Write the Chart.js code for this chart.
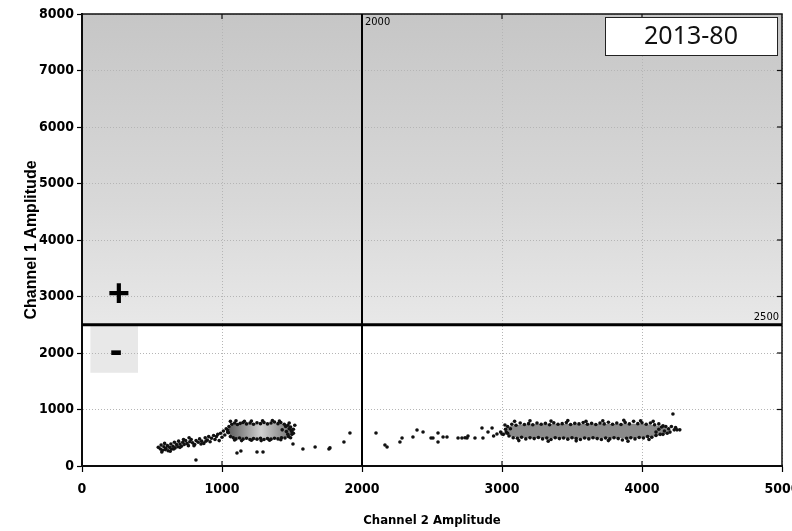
<!DOCTYPE html>
<html>
<head>
<meta charset="utf-8">
<script src="https://cdn.jsdelivr.net/npm/chart.js@4/dist/chart.umd.min.js"></script>
<style>
  html, body { margin: 0; padding: 0; background: #fff; }
  #wrap { width: 792px; height: 531px; }
</style>
</head>
<body>
<div id="wrap"><canvas id="plot" width="792" height="531"></canvas></div>
<script>
// axes
const xMin = 0, xMax = 5000, xStep = 1000;
const yMin = 0, yMax = 8000, yStep = 1000;
const xTitle = 'Channel 2 Amplitude';
const yTitle = 'Channel 1 Amplitude';
const sampleLabel = '2013-80';

// gates
const ch2Threshold = 2000;
const ch1Threshold = 2500;

// droplets, [Ch2, Ch1] amplitudes
const tail1 = [[545,330],[560,300],[565,370],[575,280],[585,340],[590,400],[600,310],[610,360],[615,270],[625,330],
  [635,390],[640,300],[650,350],[660,420],[665,320],[675,380],[685,340],[690,440],[700,390],[710,350],[720,420],
  [730,380],[740,450],[750,400],[760,360],[770,430],[780,470],[790,410],[805,380],[815,450],[830,420],[840,480],
  [855,440],[870,400],[880,500],[895,460],[905,520],[915,430],[925,490],[940,540],[950,470],[960,520],[970,560],
  [980,450],[990,580],[1000,510],[1010,620],[1020,550],[1030,660],[1040,600],
  [570,250],[595,290],[630,260],[655,300],[700,330],[725,470],[765,500],[800,360],[850,390],[885,440]];
const body1 = [[1050,700],[1070,740],[1090,760],[1110,735],[1130,755],[1150,770],[1175,745],[1200,760],[1225,740],
  [1250,765],[1275,750],[1300,770],[1325,745],[1350,760],[1375,780],[1400,750],[1420,770],[1445,740],[1470,720],
  [1490,690],[1510,650],[1060,520],[1080,500],[1100,480],[1125,495],[1150,475],[1175,490],[1200,470],[1225,485],
  [1250,475],[1275,490],[1300,470],[1325,485],[1350,475],[1375,490],[1400,480],[1425,500],[1450,495],[1475,520],
  [1500,560],[1040,640],[1045,590],[1500,600],[1510,580],[1495,630],[1430,640],[1460,610],[1480,660],[1455,700],[1470,560],
  [1060,790],[1100,800],[1160,790],[1210,795],[1290,800],[1360,805],[1410,795],[1480,760],[1520,720],
  [1090,460],[1140,450],[1210,455],[1280,450],[1340,455],[1420,465],[1490,500]];
const stray1 = [[814,106],[1107,230],[1135,265],[1250,248],[1293,248],[1507,390],[1578,300],[1665,336],[1764,300],
  [1771,320],[1871,425],[1914,584]];
const tail2 = [[2100,584],[2164,372],[2179,336],[2271,425],[2286,496],[2364,513],[2393,637],[2436,602],[2493,496],
  [2507,496],[2543,584],[2543,425],[2579,513],[2607,513],[2686,496],[2714,496],[2736,500],[2750,496],[2757,530],
  [2807,496],[2857,672],[2864,496],[2900,602],[2929,672],[2940,530],[2964,566],[2990,600],[3000,566],[3021,725]];
const body2 = [[3040,700],[3070,740],[3100,720],[3130,760],[3160,735],[3190,750],[3220,730],[3250,760],[3280,740],
  [3310,755],[3340,730],[3370,765],[3400,740],[3430,750],[3460,770],[3490,735],[3520,755],[3550,745],[3580,770],
  [3610,740],[3640,755],[3670,735],[3700,760],[3730,745],[3760,775],[3790,740],[3820,760],[3850,735],[3880,770],
  [3910,745],[3940,790],[3970,750],[4000,765],[4030,740],[4060,760],[4090,730],[4120,745],[4150,710],
  [3050,530],[3080,500],[3110,490],[3140,510],[3170,480],[3200,500],[3230,485],[3260,505],[3290,480],[3320,495],
  [3350,470],[3380,500],[3410,485],[3440,495],[3470,475],[3500,500],[3530,485],[3560,470],[3590,495],[3620,480],
  [3650,500],[3680,485],[3710,470],[3740,495],[3770,480],[3800,500],[3830,485],[3860,460],[3890,490],[3920,500],
  [3950,480],[3980,505],[4010,495],[4040,520],[4070,510],[4100,540],[4130,560],
  [3030,600],[3025,650],[3010,560],[3040,580],[3060,660],
  [3090,790],[3200,800],[3350,795],[3470,805],[3600,790],[3720,800],[3870,810],[3990,800],[4080,790],
  [3120,450],[3330,440],[3530,445],[3760,450],[3900,440],[4050,470]];
const stray2 = [[4120,650],[4140,690],[4160,620],[4170,700],[4180,580],[4190,660],[4200,600],[4210,700],[4221,920],
  [4230,640],[4250,640],[4270,640],[4150,560],[4100,600],[4240,680]];

// dense cores of the two negative clusters (upper / lower outline)
const core1Top = [[1050,680],[1080,735],[1150,755],[1250,758],[1350,758],[1450,740],[1495,685],[1510,620]];
const core1Bottom = [[1050,570],[1080,505],[1150,485],[1250,478],[1350,478],[1450,500],[1495,545],[1510,620]];
const core2Top = [[3020,640],[3060,710],[3200,740],[3400,745],[3600,745],[3800,745],[4000,745],[4150,700],[4210,640]];
const core2Bottom = [[3020,560],[3060,520],[3200,495],[3400,490],[3600,485],[3800,490],[4000,500],[4150,555],[4210,640]];

const toXY = arr => arr.map(p => ({ x: p[0], y: p[1] }));
const narrow = "'Liberation Sans Narrow', 'DejaVu Sans Condensed', sans-serif";

const coreDataset = (pts, fill, color) => ({
  type: 'line',
  data: toXY(pts),
  showLine: true,
  borderWidth: 0,
  borderColor: 'rgba(0,0,0,0)',
  pointRadius: 0,
  fill: fill,
  backgroundColor: color,
  tension: 0.3,
  order: 2
});

const dotDataset = pts => ({
  type: 'scatter',
  data: toXY(pts),
  pointRadius: 1.8,
  pointBorderWidth: 0,
  backgroundColor: '#111',
  order: 1
});

const core1Fill = (ctx) => {
  const { chart } = ctx;
  const xs = chart.scales.x;
  if (!chart.chartArea || !xs) return '#aaa';
  const a = xs.getPixelForValue(1050), b = xs.getPixelForValue(1510);
  if (!isFinite(a) || !isFinite(b)) return '#aaa';
  const g = chart.ctx.createLinearGradient(a, 0, b, 0);
  g.addColorStop(0, '#5f5f5f');
  g.addColorStop(0.5, '#d0d0d0');
  g.addColorStop(1, '#6d6d6d');
  return g;
};

const backdrop = {
  id: 'backdrop',
  beforeDraw(chart) {
    const { ctx, chartArea: { left, right, top, bottom }, scales: { x, y } } = chart;
    const yT = y.getPixelForValue(ch1Threshold);
    ctx.save();
    ctx.fillStyle = '#fff';
    ctx.fillRect(left, top, right - left, bottom - top);
    const g = ctx.createLinearGradient(0, top, 0, yT);
    g.addColorStop(0, '#c6c6c6');
    g.addColorStop(0.6, '#d8d8d8');
    g.addColorStop(1, '#e8e8e8');
    ctx.fillStyle = g;
    ctx.fillRect(left, top, right - left, yT - top);
    // shaded key box behind the "-" sign
    ctx.fillStyle = '#e8e8e8';
    const bx0 = x.getPixelForValue(60), bx1 = x.getPixelForValue(400);
    ctx.fillRect(bx0, yT, bx1 - bx0, y.getPixelForValue(1650) - yT);
    ctx.restore();
  },
  afterDatasetsDraw(chart) {
    const { ctx, chartArea: { left, right, top, bottom }, scales: { x, y } } = chart;
    const xT = x.getPixelForValue(ch2Threshold);
    const yT = y.getPixelForValue(ch1Threshold);
    ctx.save();
    // extra tick marks on top/right/bottom-inside
    ctx.strokeStyle = '#111';
    ctx.lineWidth = 1.2;
    for (let v = xMin + xStep; v < xMax; v += xStep) {
      const px = x.getPixelForValue(v);
      ctx.beginPath();
      ctx.moveTo(px, top); ctx.lineTo(px, top + 5);
      ctx.moveTo(px, bottom); ctx.lineTo(px, bottom - 5);
      ctx.stroke();
    }
    for (let v = yMin + yStep; v < yMax; v += yStep) {
      const py = y.getPixelForValue(v);
      ctx.beginPath();
      ctx.moveTo(right, py); ctx.lineTo(right - 5, py);
      ctx.stroke();
    }
    // plot frame
    ctx.lineWidth = 1.5;
    ctx.strokeRect(left, top, right - left, bottom - top);
    // threshold lines
    ctx.strokeStyle = '#000';
    ctx.lineWidth = 2;
    ctx.beginPath(); ctx.moveTo(xT, top); ctx.lineTo(xT, bottom); ctx.stroke();
    ctx.lineWidth = 3;
    ctx.beginPath(); ctx.moveTo(left, yT); ctx.lineTo(right, yT); ctx.stroke();
    ctx.fillStyle = '#000';
    ctx.font = '11px ' + narrow;
    ctx.textAlign = 'left'; ctx.textBaseline = 'top';
    ctx.fillText(String(ch2Threshold), xT + 3, top + 3);
    ctx.textAlign = 'right'; ctx.textBaseline = 'bottom';
    ctx.fillText(String(ch1Threshold), right - 3, yT - 2);
    // key signs
    ctx.font = 'bold 38px "Liberation Sans", Arial, sans-serif';
    ctx.textAlign = 'center'; ctx.textBaseline = 'middle';
    ctx.fillText('+', x.getPixelForValue(264), y.getPixelForValue(3020));
    ctx.fillText('-', x.getPixelForValue(243), y.getPixelForValue(2010));
    // sample label box
    const bw = 172, bh = 38;
    const bxr = right - 5, byt = top + 3;
    ctx.fillStyle = '#fff';
    ctx.fillRect(bxr - bw, byt, bw, bh);
    ctx.strokeStyle = '#222';
    ctx.lineWidth = 1;
    ctx.strokeRect(bxr - bw + 0.5, byt + 0.5, bw, bh);
    ctx.fillStyle = '#111';
    ctx.font = '25px "Noto Sans", "Open Sans", sans-serif';
    ctx.textAlign = 'center'; ctx.textBaseline = 'middle';
    ctx.fillText(sampleLabel, bxr - bw / 2, byt + bh / 2 + 1);
    ctx.restore();
  }
};

new Chart(document.getElementById('plot'), {
  type: 'scatter',
  data: {
    datasets: [
      coreDataset(core1Top, false, '#aaa'),
      coreDataset(core1Bottom, '-1', core1Fill),
      coreDataset(core2Top, false, '#8a8a8a'),
      coreDataset(core2Bottom, '-1', '#8a8a8a'),
      dotDataset(tail1),
      dotDataset(body1),
      dotDataset(stray1),
      dotDataset(tail2),
      dotDataset(body2),
      dotDataset(stray2)
    ]
  },
  options: {
    responsive: false,
    animation: false,
    layout: { padding: { top: 14, right: 10, left: 0, bottom: 0 } },
    plugins: { legend: { display: false }, tooltip: { enabled: false } },
    scales: {
      x: {
        type: 'linear',
        min: xMin, max: xMax,
        afterFit: s => { s.height = 65; s.paddingRight = 0; s.paddingLeft = 0; },
        ticks: { stepSize: xStep, color: '#000', padding: 9, maxRotation: 0,
          callback: v => String(v),
          font: { family: narrow, size: 14, weight: 'bold' } },
        grid: { color: '#b5b5b5', lineWidth: 1, tickLength: 6, tickColor: '#000', tickWidth: 1.2 },
        border: { display: true, color: '#000', width: 2, dash: [1, 2] },
        title: { display: true, text: xTitle, color: '#000', padding: { top: 0, bottom: 3 },
          font: { family: narrow, size: 13, weight: 'bold' } }
      },
      y: {
        type: 'linear',
        min: yMin, max: yMax,
        afterFit: s => { s.width = 82; s.paddingTop = 0; s.paddingBottom = 0; },
        ticks: { stepSize: yStep, color: '#000', padding: 3,
          callback: v => String(v),
          font: { family: narrow, size: 14, weight: 'bold' } },
        grid: { color: '#b5b5b5', lineWidth: 1, tickLength: 5, tickColor: '#000', tickWidth: 1.2 },
        border: { display: true, color: '#000', width: 2, dash: [1, 2] },
        title: { display: true, text: yTitle, color: '#000', padding: { top: 22, bottom: 0 },
          font: { family: "'Liberation Sans', Arial, sans-serif", size: 16, weight: 'bold' } }
      }
    }
  },
  plugins: [backdrop]
});
</script>
</body>
</html>
